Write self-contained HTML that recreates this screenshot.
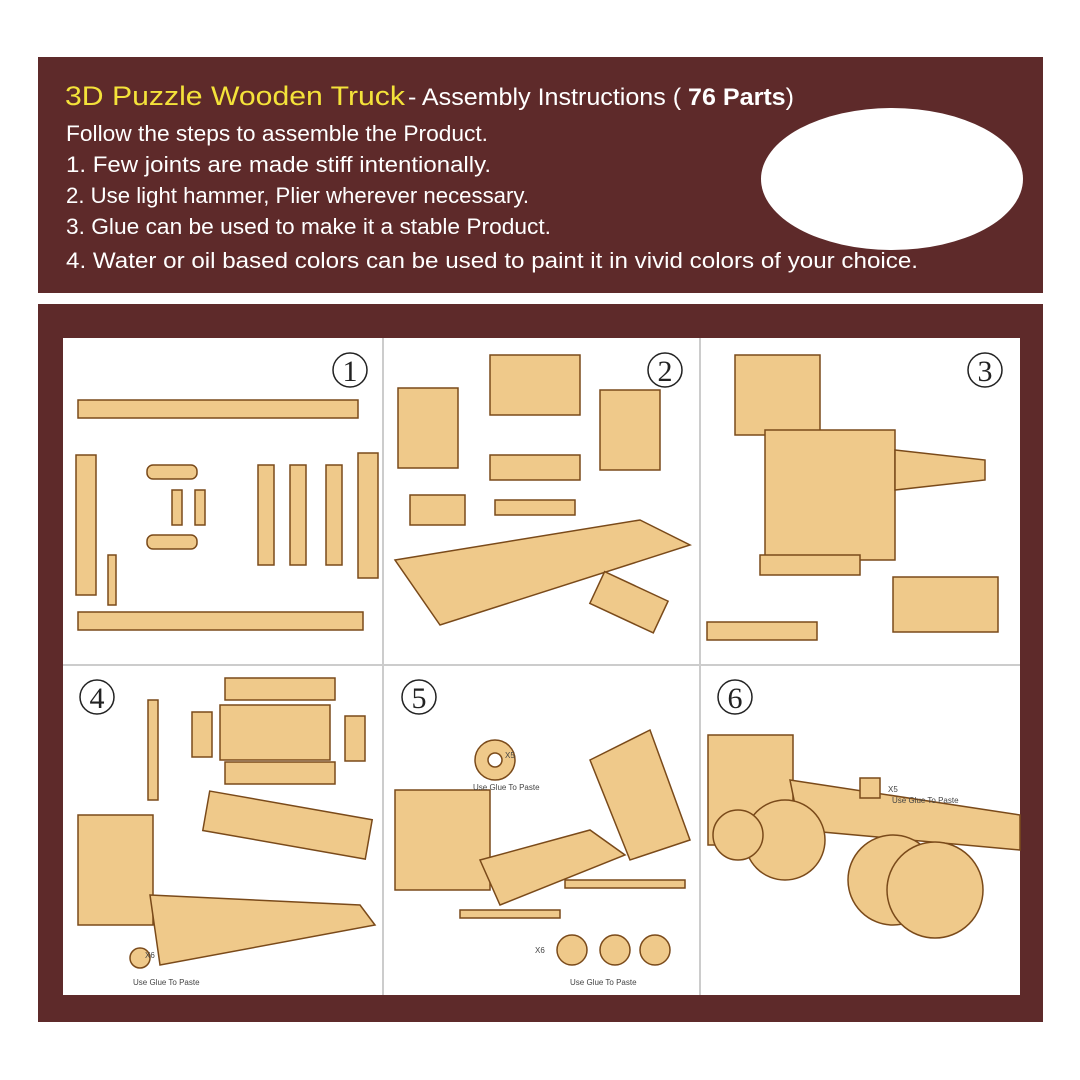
<!DOCTYPE html><html><head><style>body{margin:0;background:#fff}svg{display:block}</style></head><body>
<svg width="1080" height="1080" viewBox="0 0 1080 1080" xmlns="http://www.w3.org/2000/svg" font-family="Liberation Sans, sans-serif">
<rect width="1080" height="1080" fill="#fff"/>
<rect x="38" y="57" width="1005" height="236" fill="#5e2a2a"/>
<rect x="38" y="304" width="1005" height="718" fill="#5e2a2a"/>
<ellipse cx="892" cy="179" rx="131" ry="71" fill="#fff"/>
<g font-size="27" >
<text x="65" y="105" fill="#f4e23a" textLength="340" lengthAdjust="spacingAndGlyphs">3D Puzzle Wooden Truck</text>
<text x="408" y="105" fill="#fff" font-size="24" textLength="386" lengthAdjust="spacingAndGlyphs">- Assembly Instructions ( <tspan font-weight="bold">76 Parts</tspan>)</text>
</g>
<g fill="#fff" font-size="22">
<text x="66" y="141" textLength="422" lengthAdjust="spacingAndGlyphs">Follow the steps to assemble the Product.</text>
<text x="66" y="172" textLength="425" lengthAdjust="spacingAndGlyphs">1. Few joints are made stiff intentionally.</text>
<text x="66" y="203" textLength="463" lengthAdjust="spacingAndGlyphs">2. Use light hammer, Plier wherever necessary.</text>
<text x="66" y="234" textLength="485" lengthAdjust="spacingAndGlyphs">3. Glue can be used to make it a stable Product.</text>
<text x="66" y="268" textLength="852" lengthAdjust="spacingAndGlyphs">4. Water or oil based colors can be used to paint it in vivid colors of your choice.</text>
</g>
<rect x="63" y="338" width="957" height="657" fill="#fff"/>
<g stroke="#ccc" stroke-width="2"><line x1="383" y1="338" x2="383" y2="995"/><line x1="700" y1="338" x2="700" y2="995"/><line x1="63" y1="665" x2="1020" y2="665"/></g>
<g font-family="Liberation Serif, serif" font-size="30" fill="#222">
<circle cx="350" cy="370" r="17" fill="none" stroke="#222" stroke-width="1.5"/><text x="350" y="381" text-anchor="middle">1</text>
<circle cx="665" cy="370" r="17" fill="none" stroke="#222" stroke-width="1.5"/><text x="665" y="381" text-anchor="middle">2</text>
<circle cx="985" cy="370" r="17" fill="none" stroke="#222" stroke-width="1.5"/><text x="985" y="381" text-anchor="middle">3</text>
<circle cx="97" cy="697" r="17" fill="none" stroke="#222" stroke-width="1.5"/><text x="97" y="708" text-anchor="middle">4</text>
<circle cx="419" cy="697" r="17" fill="none" stroke="#222" stroke-width="1.5"/><text x="419" y="708" text-anchor="middle">5</text>
<circle cx="735" cy="697" r="17" fill="none" stroke="#222" stroke-width="1.5"/><text x="735" y="708" text-anchor="middle">6</text>
</g>
<g fill="#efc98a" stroke="#7a4a1a" stroke-width="1.5">
<rect x="78" y="400" width="280" height="18"/><rect x="78" y="612" width="285" height="18"/>
<rect x="76" y="455" width="20" height="140"/><rect x="358" y="453" width="20" height="125"/>
<rect x="147" y="465" width="50" height="14" rx="6"/><rect x="147" y="535" width="50" height="14" rx="6"/>
<rect x="172" y="490" width="10" height="35"/><rect x="195" y="490" width="10" height="35"/>
<rect x="258" y="465" width="16" height="100"/><rect x="290" y="465" width="16" height="100"/><rect x="326" y="465" width="16" height="100"/>
<rect x="108" y="555" width="8" height="50"/>
<rect x="398" y="388" width="60" height="80"/><rect x="490" y="355" width="90" height="60"/><rect x="600" y="390" width="60" height="80"/>
<rect x="490" y="455" width="90" height="25"/><rect x="410" y="495" width="55" height="30"/><rect x="495" y="500" width="80" height="15"/>
<polygon points="395,560 640,520 690,545 440,625"/><rect x="595" y="585" width="70" height="35" transform="rotate(25 630 600)"/>
<rect x="735" y="355" width="85" height="80"/>
<rect x="765" y="430" width="130" height="130"/><polygon points="895,450 985,460 985,480 895,490"/>
<rect x="760" y="555" width="100" height="20"/><rect x="893" y="577" width="105" height="55"/><rect x="707" y="622" width="110" height="18"/>
<rect x="225" y="678" width="110" height="22"/><rect x="225" y="762" width="110" height="22"/><rect x="220" y="705" width="110" height="55"/>
<rect x="192" y="712" width="20" height="45"/><rect x="345" y="716" width="20" height="45"/><rect x="148" y="700" width="10" height="100"/>
<rect x="205" y="805" width="165" height="40" transform="rotate(10 287 825)"/>
<rect x="78" y="815" width="75" height="110"/><polygon points="150,895 360,905 375,925 160,965"/>
<circle cx="140" cy="958" r="10"/>
<circle cx="495" cy="760" r="20"/><circle cx="495" cy="760" r="7" fill="#fff"/>
<rect x="395" y="790" width="95" height="100"/><polygon points="480,860 590,830 625,855 500,905"/>
<polygon points="590,760 650,730 690,840 630,860"/>
<rect x="565" y="880" width="120" height="8"/><rect x="460" y="910" width="100" height="8"/>
<circle cx="572" cy="950" r="15"/><circle cx="615" cy="950" r="15"/><circle cx="655" cy="950" r="15"/>
<rect x="708" y="735" width="85" height="110"/><polygon points="790,780 1020,815 1020,850 800,830"/>
<circle cx="785" cy="840" r="40"/><circle cx="893" cy="880" r="45"/><circle cx="935" cy="890" r="48"/>
<circle cx="738" cy="835" r="25"/><rect x="860" y="778" width="20" height="20"/>
</g>
<g font-size="8" fill="#444">
<text x="505" y="758">X5</text><text x="473" y="790">Use Glue To Paste</text>
<text x="133" y="985">Use Glue To Paste</text><text x="145" y="958">X6</text>
<text x="570" y="985">Use Glue To Paste</text><text x="535" y="953">X6</text>
<text x="888" y="792">X5</text><text x="892" y="803">Use Glue To Paste</text>
</g>
</svg>
</body></html>
